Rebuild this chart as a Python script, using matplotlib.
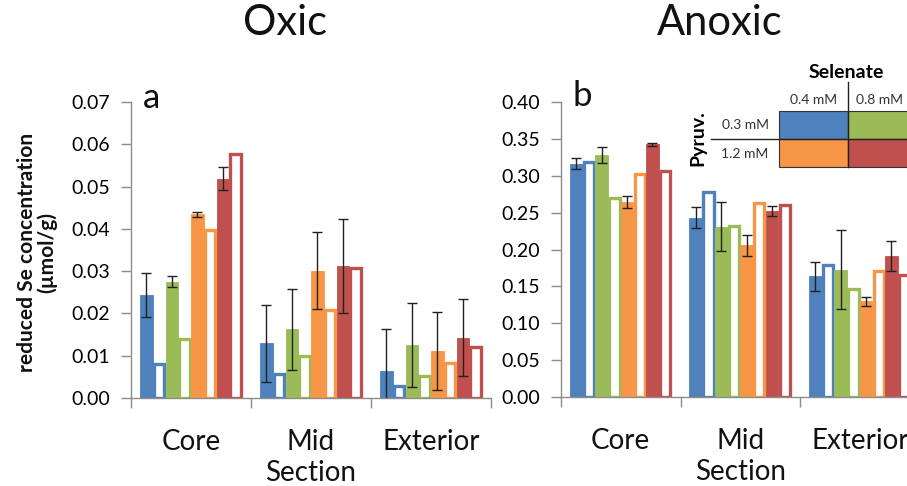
import numpy as np
import matplotlib.pyplot as plt
from matplotlib.patches import Rectangle

plt.rcParams['font.family'] = ['Lato', 'DejaVu Sans']

categories = ["Core", "Mid\nSection", "Exterior"]

# oxic (panel a), filled bar = first treatment, open bar = second
oxic_blue_fill = [0.0243, 0.0130, 0.0063]
oxic_blue_open = [0.0080, 0.0057, 0.0029]
oxic_green_fill = [0.0275, 0.0162, 0.0125]
oxic_green_open = [0.0140, 0.0099, 0.0051]
oxic_orange_fill = [0.0434, 0.0301, 0.0111]
oxic_orange_open = [0.0398, 0.0209, 0.0083]
oxic_red_fill = [0.0519, 0.0312, 0.0143]
oxic_red_open = [0.0578, 0.0307, 0.0120]

oxic_blue_err = [0.0052, 0.0091, 0.0101]
oxic_green_err = [0.0013, 0.0096, 0.0100]
oxic_orange_err = [0.0006, 0.0091, 0.0093]
oxic_red_err = [0.0028, 0.0112, 0.0090]

# anoxic (panel b)
anoxic_blue_fill = [0.3164, 0.2430, 0.1636]
anoxic_blue_open = [0.3190, 0.2780, 0.1795]
anoxic_green_fill = [0.3280, 0.2310, 0.1727]
anoxic_green_open = [0.2705, 0.2320, 0.1464]
anoxic_orange_fill = [0.2645, 0.2060, 0.1295]
anoxic_orange_open = [0.3030, 0.2630, 0.1705]
anoxic_red_fill = [0.3427, 0.2527, 0.1914]
anoxic_red_open = [0.3060, 0.2610, 0.1650]

anoxic_blue_err = [0.0073, 0.0145, 0.0193]
anoxic_green_err = [0.0110, 0.0330, 0.0536]
anoxic_orange_err = [0.0084, 0.0143, 0.0060]
anoxic_red_err = [0.0023, 0.0066, 0.0207]

selenate_labels = ["0.4 mM", "0.8 mM"]
pyruvate_labels = ["0.3 mM", "1.2 mM"]

blue = '#4F81BD'
green = '#9BBB59'
orange = '#F79646'
red = '#C0504D'
axis_gray = '#8c8c8c'

fig = plt.figure(figsize=(9.07, 4.86), dpi=100)


def draw_panel(ax, fills, opens, errs, ymax, ystep):
    colors = [blue, green, orange, red]
    x = np.arange(len(categories))
    w = 0.85 / 8
    start = 0.075
    lw = 2.4
    shrink = 0.02
    for i in range(4):
        xf = x + start + (2 * i) * w + w / 2
        xo = x + start + (2 * i + 1) * w + w / 2
        ax.bar(xf, fills[i], width=w, color=colors[i], edgecolor=colors[i],
               linewidth=0.6, zorder=2)
        ax.bar(xo, opens[i], width=w - shrink, color='white', edgecolor=colors[i],
               linewidth=lw, zorder=2)
        ax.errorbar(xf, fills[i], yerr=errs[i], fmt='none', ecolor='#222222',
                    elinewidth=1, capsize=3.5, capthick=1, zorder=3)

    ax.set_xlim(0, 3)
    ax.set_ylim(0, ymax)
    ax.set_yticks(np.arange(0, ymax + ystep / 2, ystep))
    ax.yaxis.set_major_formatter(plt.FormatStrFormatter('%.2f'))
    ax.set_xticks([0, 1, 2, 3])
    ax.set_xticklabels([])
    ax.set_xticks(x + 0.5, minor=True)
    ax.set_xticklabels(categories, minor=True, fontsize=20, va='top',
                       linespacing=1.25, color='#111111')
    ax.tick_params(axis='x', which='major', length=7, color=axis_gray, width=1)
    ax.tick_params(axis='x', which='minor', length=0, pad=22)
    ax.tick_params(axis='y', length=7, color=axis_gray, width=1,
                   labelsize=14, pad=8)
    for s in ['top', 'right']:
        ax.spines[s].set_visible(False)
    for s in ['left', 'bottom']:
        ax.spines[s].set_color(axis_gray)
        ax.spines[s].set_linewidth(1)


ax1 = fig.add_axes([131 / 907, 88 / 486, 360 / 907, 296 / 486])
draw_panel(ax1,
           [oxic_blue_fill, oxic_green_fill, oxic_orange_fill, oxic_red_fill],
           [oxic_blue_open, oxic_green_open, oxic_orange_open, oxic_red_open],
           [oxic_blue_err, oxic_green_err, oxic_orange_err, oxic_red_err],
           0.07, 0.01)

ax2 = fig.add_axes([561 / 907, 89 / 486, 358.5 / 907, 295 / 486])
draw_panel(ax2,
           [anoxic_blue_fill, anoxic_green_fill, anoxic_orange_fill, anoxic_red_fill],
           [anoxic_blue_open, anoxic_green_open, anoxic_orange_open, anoxic_red_open],
           [anoxic_blue_err, anoxic_green_err, anoxic_orange_err, anoxic_red_err],
           0.40, 0.05)

# overlay in pixel units for titles, panel letters and the legend table
ov = fig.add_axes([0, 0, 1, 1], zorder=5)
ov.set_xlim(0, 907)
ov.set_ylim(486, 0)
ov.axis('off')
ov.patch.set_alpha(0)

ov.text(285, 23, "Oxic", fontsize=30, ha='center', va='center', color='#111111')
ov.text(720, 23, "Anoxic", fontsize=30, ha='center', va='center', color='#111111')
ov.text(151, 98, "a", fontsize=25, ha='center', va='center', color='#111111')
ov.text(582, 96, "b", fontsize=25, ha='center', va='center', color='#111111')

ov.text(37, 252, "reduced Se concentration\n(µmol/g)", rotation=90, fontsize=15,
        fontweight='bold', ha='center', va='center', multialignment='center',
        linespacing=1.0, color='#111111')

# legend table
cell_colors = [[blue, green], [orange, red]]
for r in range(2):
    for c in range(2):
        ov.add_patch(Rectangle((779 + c * 69, 111 + r * 28), 69, 28,
                               facecolor=cell_colors[r][c], edgecolor='#333333',
                               linewidth=0.8, zorder=2))
ov.plot([848, 848], [82, 167], color='#222222', linewidth=1, zorder=3)
ov.plot([711, 907], [139, 139], color='#222222', linewidth=1, zorder=3)
ov.text(846, 73, "Selenate", fontsize=14, fontweight='bold', ha='center', va='center')
for c in range(2):
    ov.text(814 + c * 66, 100, selenate_labels[c], fontsize=10, ha='center',
            va='center', color='#333333')
for r in range(2):
    ov.text(745, 125 + r * 29, pyruvate_labels[r], fontsize=10, ha='center',
            va='center', color='#333333')
ov.text(698, 138, "Pyruv.", fontsize=14, fontweight='bold', rotation=90,
        ha='center', va='center')

plt.savefig('out.png', dpi=100)
